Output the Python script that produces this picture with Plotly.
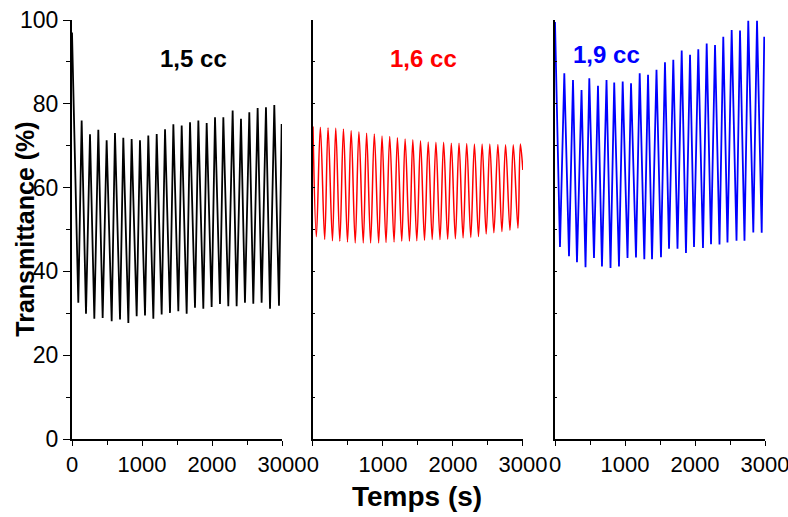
import plotly.graph_objects as go

# ---------------- data ----------------
# Panel 1 : 1,5 cc (black)
black_start = (0, 97.0)
black_trough_t = [90, 200, 319, 438, 567, 686, 805, 924, 1043, 1162, 1281, 1400, 1519,
                  1638, 1757, 1876, 1995, 2114, 2233, 2352, 2471, 2590, 2709, 2829, 2957]
black_trough_v = [32.5, 29.9, 28.7, 28.9, 28.1, 28.5, 27.7, 29.3, 29.5, 28.7, 29.7, 30.1, 30.5,
                  29.9, 31.3, 31.1, 31.5, 32.2, 31.7, 31.7, 32.5, 32.3, 32.5, 31.1, 31.8]
black_peak_t = [138, 257, 376, 495, 614, 733, 852, 971, 1090, 1210, 1329, 1448, 1567,
                1686, 1805, 1924, 2043, 2162, 2295, 2414, 2533, 2652, 2771, 2890, 2995]
black_peak_v = [76.0, 72.7, 73.8, 71.3, 73.0, 71.9, 71.6, 71.3, 72.4, 72.8, 73.9, 75.1, 74.8,
                75.6, 76.0, 75.4, 76.8, 76.8, 78.4, 76.4, 78.0, 79.0, 79.2, 79.7, 75.2]

# Panel 2 : 1,6 cc (red)
red_start = (0, 74.6)
red_trough_t = [48, 167, 278, 383, 493, 603, 718, 823, 938, 1043, 1158, 1268, 1378, 1483,
                1593, 1703, 1814, 1924, 2034, 2144, 2254, 2364, 2474, 2584, 2699, 2814, 2928]
red_trough_v = [48.3, 47.6, 47.3, 47.2, 47.0, 46.8, 46.8, 46.8, 46.8, 46.9, 47.0, 47.2, 47.2, 47.3,
                47.4, 47.6, 47.6, 47.7, 47.8, 48.0, 48.1, 48.3, 48.9, 49.2, 49.5, 49.8, 50.3]
red_peak_t = [105, 215, 325, 435, 545, 656, 766, 876, 986, 1096, 1206, 1316, 1426, 1536,
              1646, 1756, 1866, 1976, 2086, 2196, 2306, 2416, 2526, 2641, 2751, 2861, 2962]
red_peak_v = [74.4, 74.3, 74.2, 74.0, 73.6, 73.3, 73.0, 72.8, 72.3, 72.2, 71.9, 71.6, 71.4, 71.2,
              70.9, 70.8, 70.8, 70.6, 70.6, 70.5, 70.4, 70.4, 70.4, 70.3, 70.2, 70.2, 70.4]
red_end = (2998, 64.2)

# Panel 3 : 1,9 cc (blue)
blue_start = (0, 99.5)
blue_trough_t = [71, 200, 314, 436, 557, 671, 793, 914, 1036, 1157, 1276, 1386, 1514,
                 1629, 1750, 1871, 1986, 2114, 2229, 2350, 2464, 2593, 2707, 2833, 2953]
blue_trough_v = [45.8, 43.6, 42.2, 41.0, 43.2, 41.2, 40.8, 41.2, 43.2, 43.3, 42.9, 42.9, 43.4,
                 45.4, 45.4, 44.4, 45.8, 45.6, 46.5, 46.4, 46.9, 47.3, 47.3, 49.3, 49.2]
blue_peak_t = [133, 257, 379, 490, 614, 736, 846, 967, 1086, 1210, 1329, 1450, 1571,
               1690, 1810, 1929, 2047, 2167, 2286, 2404, 2524, 2643, 2761, 2886, 2989]
blue_peak_v = [87.3, 85.7, 83.3, 86.1, 84.3, 85.7, 85.1, 85.3, 84.9, 87.3, 86.9, 88.1, 89.9,
               90.5, 92.7, 91.7, 93.0, 94.4, 94.0, 96.0, 97.6, 97.5, 99.8, 99.8, 96.0]

labels = ["1,5 cc", "1,6 cc", "1,9 cc"]
x_ticks = [0, 1000, 2000, 3000]
y_ticks = [0, 20, 40, 60, 80, 100]


def build(start, tr_t, tr_v, pk_t, pk_v, end=None):
    xs, ys = [start[0]], [start[1]]
    for a, b, c, d in zip(tr_t, tr_v, pk_t, pk_v):
        xs += [a, c]
        ys += [b, d]
    if end is not None:
        xs.append(end[0])
        ys.append(end[1])
    return xs, ys


bx, by = build(black_start, black_trough_t, black_trough_v, black_peak_t, black_peak_v)
rx, ry = build(red_start, red_trough_t, red_trough_v, red_peak_t, red_peak_v, red_end)
ux, uy = build(blue_start, blue_trough_t, blue_trough_v, blue_peak_t, blue_peak_v)

fig = go.Figure()
fig.add_trace(go.Scatter(x=bx, y=by, mode="lines", line=dict(color="black", width=1.8),
                         xaxis="x", yaxis="y", showlegend=False))
fig.add_trace(go.Scatter(x=rx, y=ry, mode="lines",
                         line=dict(color="#ff0000", width=1.5, shape="spline", smoothing=1.0),
                         xaxis="x2", yaxis="y2", showlegend=False))
fig.add_trace(go.Scatter(x=ux, y=uy, mode="lines", line=dict(color="#0000ff", width=1.8),
                         xaxis="x3", yaxis="y3", showlegend=False))

narrow = "Liberation Sans Narrow, Arial Narrow, Liberation Sans, Arial, sans-serif"
regular = "Liberation Sans, Arial, sans-serif"

domains = [[0.0, 0.30303], [0.34776, 0.65079], [0.69697, 1.0]]

def xaxis(dom, anchor):
    return dict(domain=dom, anchor=anchor, range=[0, 3000], tickvals=x_ticks,
                ticks="outside", ticklen=5, tickwidth=1.3, tickcolor="black",
                showline=True, linecolor="black", linewidth=1.5, showgrid=False, zeroline=False,
                tickfont=dict(family=narrow, size=22, color="black"), automargin=False,
                ticklabeloverflow="allow",
                minor=dict(dtick=500, tick0=0, ticks="outside", ticklen=4, tickcolor="black", tickwidth=1.3),
                fixedrange=True)

def yaxis(anchor, main):
    d = dict(anchor=anchor, domain=[0, 1], range=[0, 100], tickvals=y_ticks,
             showline=True, linecolor="black", linewidth=2, showgrid=False, zeroline=False,
             tickcolor="black", tickwidth=1.3, fixedrange=True, automargin=False,
             ticklabeloverflow="allow")
    if main:
        d.update(ticks="outside", ticklen=7, showticklabels=True,
                 tickfont=dict(family=regular, size=23, color="black"),
                 minor=dict(dtick=10, tick0=0, ticks="outside", ticklen=4, tickcolor="black", tickwidth=1.3))
    else:
        d.update(ticks="inside", ticklen=2, showticklabels=False,
                 minor=dict(dtick=10, tick0=0, ticks="inside", ticklen=2, tickcolor="black", tickwidth=1.3))
    return d

fig.update_layout(
    width=788, height=517, autosize=False,
    margin=dict(l=72, r=23, t=20, b=78, pad=0, autoexpand=False),
    paper_bgcolor="white", plot_bgcolor="white",
    xaxis=xaxis(domains[0], "y"),
    xaxis2=xaxis(domains[1], "y2"),
    xaxis3=xaxis(domains[2], "y3"),
    yaxis=yaxis("x", True),
    yaxis2=yaxis("x2", False),
    yaxis3=yaxis("x3", False),
    annotations=[
        dict(text="<b>%s</b>" % labels[0], x=1740, y=90.7, xref="x", yref="y", showarrow=False,
             font=dict(family=regular, size=24, color="black")),
        dict(text="<b>%s</b>" % labels[1], x=1585, y=90.7, xref="x2", yref="y2", showarrow=False,
             font=dict(family=regular, size=24, color="#ff0000")),
        dict(text="<b>%s</b>" % labels[2], x=740, y=91.7, xref="x3", yref="y3", showarrow=False,
             font=dict(family=regular, size=24, color="#0000ff")),
        dict(text="<b>Temps (s)</b>", x=0.498, y=-0.138, xref="paper", yref="paper",
             showarrow=False, xanchor="center", yanchor="middle",
             font=dict(family=regular, size=28, color="black")),
        dict(text="<b>Transmittance (%)</b>", x=-0.069, y=0.5, xref="paper", yref="paper",
             showarrow=False, textangle=-90, xanchor="center", yanchor="middle",
             font=dict(family=regular, size=25, color="black")),
    ],
)

fig.write_html("out.html", config={"displayModeBar": False},
               post_script="document.body.style.margin='0';document.body.style.overflow='hidden';")
